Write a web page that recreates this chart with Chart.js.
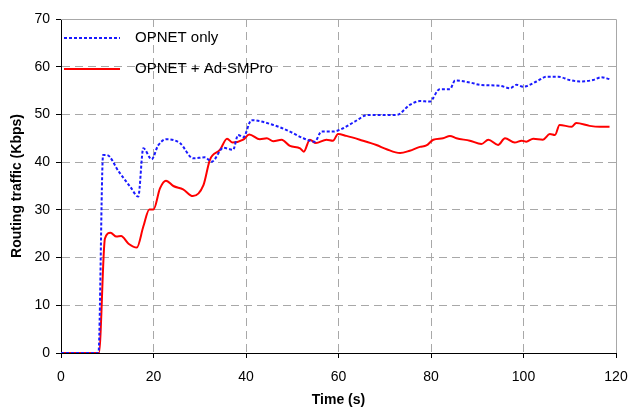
<!DOCTYPE html>
<html>
<head>
<meta charset="utf-8">
<script src="https://cdn.jsdelivr.net/npm/chart.js@4"></script>
<style>
  html, body { margin: 0; padding: 0; background: #fff; }
  #wrap { width: 629px; height: 409px; }
</style>
</head>
<body>
<div id="wrap"><canvas id="trafficChart" width="629" height="409"></canvas></div>
<script>
// series data
var seriesNames = ['OPNET only', 'OPNET + Ad-SMPro'];

var opnetTime = [0, 8.1, 9.1, 9.9, 12.5, 15.0, 16.7, 17.8, 19.6, 21.0, 22.8, 25.7, 28.6, 31.1, 32.6, 35.1, 37.2, 38.3, 39.4, 41.2,
	45.9, 49.5, 52.4, 54.9, 56.3, 58.8, 61.0, 63.5, 66.4, 69.7, 72.6, 75.4, 77.6, 79.7, 81.9, 84.1, 85.2, 88.4, 90.6,
	94.9, 97.1, 98.5, 99.9, 102.8, 105.0, 107.5, 110.0, 112.2, 115.0, 116.8, 118.6];
var opnetVals = [0, 0, 41.5, 41.5, 38.0, 34.8, 32.8, 42.9, 40.6, 43.5, 44.8, 44.0, 40.8, 41.0, 40.1, 43.0, 42.6, 45.7, 45.2, 48.8,
	47.8, 46.4, 45.0, 44.3, 46.4, 46.4, 47.1, 48.5, 49.9, 49.9, 49.9, 52.0, 52.8, 52.7, 55.3, 55.3, 57.1, 56.7, 56.2,
	56.0, 55.5, 56.2, 55.8, 56.9, 57.9, 57.9, 57.2, 56.9, 57.2, 57.8, 57.4];

var adsmTime = [0, 8.2, 9.5, 10.7, 12.0, 13.0, 14.6, 16.4, 17.8, 19.1, 20.0, 21.4, 22.7, 24.3, 26.4, 28.5, 30.8, 32.2, 34.4, 35.9,
	37.1, 39.4, 40.7, 43.0, 44.5, 45.9, 47.7, 49.5, 51.7, 52.5, 53.8, 55.1, 57.4, 58.8, 59.9, 61.7, 64.6, 68.2, 70.4,
	73.3, 75.4, 77.6, 79.0, 80.5, 82.6, 84.1, 85.5, 88.4, 90.9, 92.4, 94.5, 96.0, 98.1, 99.6, 100.6, 102.1, 104.2,
	105.7, 106.8, 107.8, 110.4, 111.4, 114.3, 116.5, 118.6];
var adsmVals = [0, 0, 24.0, 25.2, 24.4, 24.5, 22.9, 22.1, 26.5, 30.1, 30.1, 34.5, 36.1, 35.0, 34.3, 32.9, 35.2, 40.5, 42.6, 44.9,
	44.1, 44.7, 45.8, 44.8, 45.0, 44.4, 44.7, 43.4, 42.9, 42.2, 44.7, 44.0, 44.7, 44.5, 45.9, 45.5, 44.7, 43.6, 42.7,
	41.9, 42.4, 43.2, 43.5, 44.7, 45.0, 45.5, 45.0, 44.5, 43.8, 44.7, 43.6, 45.0, 44.1, 44.5, 44.3, 44.9, 44.7,
	45.9, 45.7, 47.8, 47.4, 48.2, 47.6, 47.4, 47.4];

var xTicks = [0, 20, 40, 60, 80, 100, 120];
var yTicks = [0, 10, 20, 30, 40, 50, 60, 70];

function toPoints(times, vals){
	var pts = [];
	for (var i = 0; i < times.length; i++) {
		pts.push({x: times[i], y: vals[i]});
	}
	return pts;
}

var FONT = "'Liberation Sans', Arial, sans-serif";
var GRID = '#a8a8a8';

// gray frame on top/right + legend inside the plot, like the original
var framePlugin = {
	id: 'frameAndLegend',
	beforeDatasetsDraw: function(chart){
		var a = chart.chartArea, ctx = chart.ctx;
		ctx.save();
		ctx.strokeStyle = GRID;
		ctx.lineWidth = 1;
		ctx.beginPath();
		ctx.moveTo(a.left, a.top + 0.5);
		ctx.lineTo(a.right + 0.5, a.top + 0.5);
		ctx.lineTo(a.right + 0.5, a.bottom);
		ctx.stroke();
		ctx.restore();
	},
	afterDraw: function(chart){
		var ctx = chart.ctx, a = chart.chartArea;
		ctx.save();
		ctx.font = '15px ' + FONT;
		ctx.fillStyle = '#000';
		ctx.textBaseline = 'middle';
		chart.data.datasets.forEach(function(ds, i){
			var y = a.top + 19 + i * 31;
			ctx.strokeStyle = ds.borderColor;
			ctx.lineWidth = ds.borderWidth;
			ctx.setLineDash(ds.borderDash || []);
			ctx.beginPath();
			ctx.moveTo(a.left + 3, y);
			ctx.lineTo(a.left + 59, y);
			ctx.stroke();
			ctx.setLineDash([]);
			ctx.fillText(ds.label, a.left + 74, y);
		});
		ctx.restore();
	}
};

var ctx = document.getElementById('trafficChart').getContext('2d');
var trafficChart = new Chart(ctx, {
	type: 'line',
	data: {
		datasets: [{
			label: seriesNames[0],
			data: toPoints(opnetTime, opnetVals),
			borderColor: '#1a1aff',
			borderWidth: 2,
			borderDash: [3, 2],
			pointRadius: 0,
			cubicInterpolationMode: 'monotone',
			fill: false
		}, {
			label: seriesNames[1],
			data: toPoints(adsmTime, adsmVals),
			borderColor: '#ff0000',
			borderWidth: 2,
			pointRadius: 0,
			cubicInterpolationMode: 'monotone',
			fill: false
		}]
	},
	options: {
		responsive: false,
		animation: false,
		layout: {
			padding: { left: 0, right: 13, top: 19, bottom: 0 }
		},
		plugins: {
			legend: { display: false },
			tooltip: { enabled: false }
		},
		scales: {
			x: {
				type: 'linear',
				min: 0,
				max: 120,
				afterBuildTicks: function(scale){
					scale.ticks = xTicks.map(function(v){ return {value: v}; });
				},
				afterFit: function(scale){
					scale.height = 56;
					// keep the end labels from shrinking the plot
					scale.paddingLeft = 0;
					scale.paddingRight = 0;
				},
				grid: {
					color: function(c){ return (c.index === 0 || c.index === xTicks.length - 1) ? 'rgba(0,0,0,0)' : GRID; },
					tickColor: '#000',
					tickLength: 5,
					tickBorderDash: []
				},
				border: { display: true, color: '#000', width: 1, dash: [8, 5] },
				ticks: {
					color: '#000',
					padding: 11,
					maxRotation: 0,
					font: { family: FONT, size: 14 }
				},
				title: {
					display: true,
					text: 'Time (s)',
					color: '#000',
					padding: { top: 0, bottom: 0 },
					font: { family: FONT, size: 14, weight: 'bold' }
				}
			},
			y: {
				min: 0,
				max: 70,
				afterBuildTicks: function(scale){
					scale.ticks = yTicks.map(function(v){ return {value: v}; });
				},
				afterFit: function(scale){ scale.width = 61; },
				grid: {
					color: function(c){ return (c.index === 0 || c.index === yTicks.length - 1) ? 'rgba(0,0,0,0)' : GRID; },
					tickColor: '#000',
					tickLength: 5,
					tickBorderDash: []
				},
				border: { display: true, color: '#000', width: 1, dash: [8, 5] },
				ticks: {
					color: '#000',
					padding: 6,
					font: { family: FONT, size: 14 }
				},
				title: {
					display: true,
					text: 'Routing traffic (Kbps)',
					color: '#000',
					padding: { top: 9, bottom: 0 },
					font: { family: FONT, size: 14, weight: 'bold' }
				}
			}
		}
	},
	plugins: [framePlugin]
});
</script>
</body>
</html>
